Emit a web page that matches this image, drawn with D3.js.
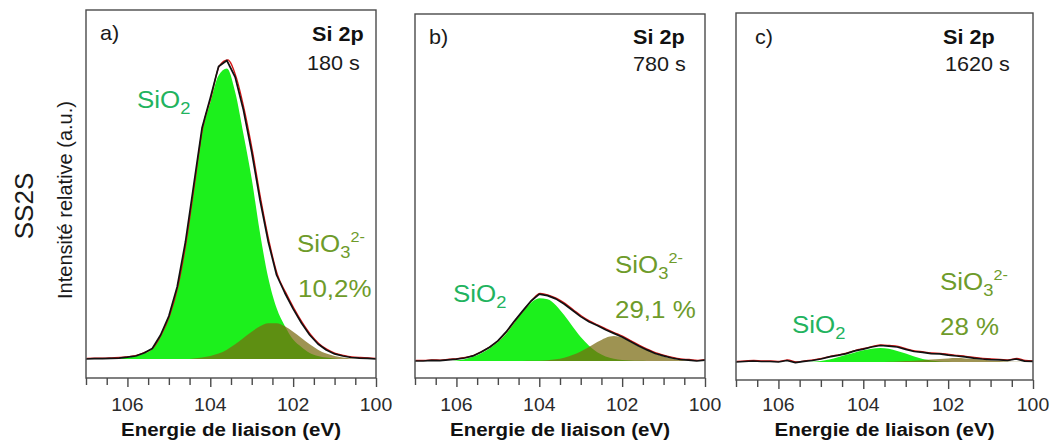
<!DOCTYPE html>
<html>
<head>
<meta charset="utf-8">
<script src="https://cdn.jsdelivr.net/npm/d3@7"></script>
<style>
  html, body { margin: 0; padding: 0; background: #fff; }
  svg { display: block; font-family: "Liberation Sans", Arial, sans-serif; }
</style>
</head>
<body>
<script>
// ---------------- DATA ----------------
const energy = [107.0,106.8,106.6,106.4,106.2,106.0,105.8,105.6,105.4,105.2,105.0,104.8,104.6,104.4,104.2,104.0,103.8,103.6,103.4,103.2,103.0,102.8,102.6,102.4,102.2,102.0,101.8,101.6,101.4,101.2,101.0,100.8,100.6,100.4,100.2,100.0];

// Panel a) 180 s
const envA  = [0,0.1,0.1,0.2,0.3,0.6,1.0,2.0,3.5,8.0,14.3,24,39,58,77,87,97.5,99.5,94,83,69,53,39,28,22,16.7,12,8,5,3,1.7,1.0,0.5,0.3,0.2,0];
const sio2A = [0,0,0,0.1,0.2,0.5,0.9,1.8,3.3,7.6,13.8,23.3,38,56.8,75.5,85.5,94.5,96.8,89,75,60,42,27,17,11,6.5,4,2,1,0.5,0.2,0,0,0,0,0];
const sio3A = [0,0,0,0,0,0,0,0,0,0,0,0,0,0.2,0.5,1.0,1.8,3.1,4.9,7.0,9.1,10.9,11.9,11.9,10.9,9.1,7.0,4.9,3.1,1.8,1.0,0.5,0.2,0.1,0,0];

// Panel b) 780 s
const envB  = [0,0,0.2,0.1,0.4,0.6,1.0,1.7,3.0,4.6,6.7,9.7,13.3,16.7,20,22.3,21.8,20.7,19.0,16.9,14.8,13.1,11.8,10.4,9.2,8.0,6.5,5.0,3.7,2.5,1.7,1.0,0.5,0.3,0,0.3];
const sio2B = [0,0,0,0,0,0.2,0.6,1.4,2.6,4.2,6.3,9.1,12.8,16.4,19.4,20.9,20.6,18.6,15.3,11.6,8.0,5.1,2.9,1.5,0.75,0.33,0.13,0.05,0,0,0,0,0,0,0,0];
const sio3B = [0,0,0,0,0,0,0,0,0,0,0,0,0,0,0.05,0.1,0.25,0.55,1.1,2.0,3.2,4.7,6.3,7.7,8.3,7.8,6.3,4.8,3.6,2.4,1.5,0.8,0.4,0.15,0.05,0];

// Panel c) 1620 s
const envC  = [0,0.17,0.33,0.17,0.17,0,0.5,-0.2,0.2,0.5,1.0,1.7,2.2,2.8,3.7,4.3,5.0,5.5,5.3,5.0,4.2,3.5,3.2,2.8,2.7,2.3,2.0,1.7,1.3,1.0,0.8,0.7,0.5,1.0,0.3,0.2];
const sio2C = [0,0,0,0,0,0,0,0,0,0.1,0.3,0.8,1.6,2.4,3.2,3.9,4.4,4.7,4.4,3.7,2.8,1.8,1.0,0.5,0.2,0.1,0,0,0,0,0,0,0,0,0,0];
const sio3C = [0,0,0,0,0,0,0,0,0,0,0,0,0,0,0,0,0,0,0.1,0.2,0.3,0.45,0.6,0.8,1.0,1.2,1.3,1.2,1.0,0.8,0.5,0.3,0.15,0.05,0,0];

const panelLetters = ["a)", "b)", "c)"];
const panelTimes   = ["180 s", "780 s", "1620 s"];
const sio3Percent  = ["10,2%", "29,1 %", "28 %"];
const xDomain      = [107, 100];
const xTicks       = [107,106.5,106,105.5,105,104.5,104,103.5,103,102.5,102,101.5,101,100.5,100];
const xTickLabels  = [106, 104, 102, 100];
const xTitle       = "Energie de liaison (eV)";
const yTitle       = "Intensité relative (a.u.)";
const sampleName   = "SS2S";
const coreLevel    = "Si 2p";

// ---------------- LAYOUT ----------------
const W = 1051, H = 448;
const layout = [
  {left: 86,  right: 376,  top: 10, bottom: 378, base: 359,
   letter:[100,40], core:[312,41], time:[307,70], sio2:[137,108], sio3:[297,252], pct:[298,297]},
  {left: 415, right: 705,  top: 14, bottom: 378, base: 361,
   letter:[429,44], core:[633,44], time:[633,71], sio2:[453,302], sio3:[615,273], pct:[615,318]},
  {left: 736, right: 1033, top: 13, bottom: 380, base: 362,
   letter:[755,44], core:[943,44], time:[945,71], sio2:[792,333], sio3:[940,290], pct:[940,335]}
];
const series = [
  {env: envA, sio2: sio2A, sio3: sio3A},
  {env: envB, sio2: sio2B, sio3: sio3B},
  {env: envC, sio2: sio2C, sio3: sio3C}
];

const SX = 1.08; // horizontal stretch of the reference text
const svg = d3.select("body").append("svg").attr("width", W).attr("height", H);

function htext(parent, x, y, str, size, opts = {}) {
  const t = parent.append("text")
    .attr("transform", `translate(${x},${y}) scale(${SX},1)`)
    .attr("font-size", size)
    .attr("fill", opts.fill || "#1a1a1a")
    .attr("font-weight", opts.bold ? "bold" : "normal")
    .attr("text-anchor", opts.anchor || "start");
  if (str !== null) t.text(str);
  return t;
}

layout.forEach((L, i) => {
  const S = series[i];
  const g = svg.append("g");
  const x = d3.scaleLinear().domain(xDomain).range([L.left, L.right]);
  const y = d3.scaleLinear().domain([0, 100]).range([L.base, L.base - 300]);

  const pts = k => energy.map((e, j) => ({e, v: S[k][j]}));

  const clipId = "clip" + i;
  svg.append("clipPath").attr("id", clipId).append("rect")
    .attr("x", L.left).attr("y", L.top).attr("width", L.right - L.left).attr("height", L.bottom - L.top);
  const dg = g.append("g").attr("clip-path", `url(#${clipId})`);

  const area = d3.area().x(d => x(d.e)).y0(y(0)).y1(d => y(d.v)).curve(d3.curveMonotoneX);
  const lineSmooth = d3.line().x(d => x(d.e)).y(d => y(d.v)).curve(d3.curveMonotoneX);
  const lineRaw = d3.line().x(d => x(d.e)).y(d => y(d.v));

  dg.append("path").attr("d", area(pts("sio2"))).attr("fill", "#1cf01c");
  dg.append("path").attr("d", area(pts("sio3"))).attr("fill", "rgb(120,105,15)").attr("fill-opacity", 0.72);
  dg.append("path").attr("d", lineSmooth(pts("env"))).attr("fill", "none")
    .attr("stroke", "#d41515").attr("stroke-width", 1.3).attr("transform", "translate(0.8,-0.6)");
  dg.append("path").attr("d", lineRaw(pts("env"))).attr("fill", "none")
    .attr("stroke", "#111").attr("stroke-width", 1.7).attr("stroke-linejoin", "round");

  // frame
  g.append("rect").attr("x", L.left).attr("y", L.top)
    .attr("width", L.right - L.left).attr("height", L.bottom - L.top)
    .attr("fill", "none").attr("stroke", "#4a4a4a").attr("stroke-width", 1.4);

  // x axis ticks
  const ax = g.append("g").attr("transform", `translate(0,${L.bottom})`)
    .call(d3.axisBottom(x).tickValues(xTicks).tickFormat("").tickSizeOuter(0));
  ax.select(".domain").remove();
  ax.selectAll(".tick line")
    .attr("stroke", "#4a4a4a").attr("stroke-width", 1.4)
    .attr("y2", d => xTickLabels.includes(d) ? 9 : 7);

  xTickLabels.forEach(v => {
    htext(g, x(v), 411, String(v), 18, {anchor: "middle", fill: "#2a2a2a"});
  });
  htext(g, (L.left + L.right) / 2, 436, xTitle, 19, {anchor: "middle", bold: true, fill: "#111"});

  // annotations
  htext(g, L.letter[0], L.letter[1], panelLetters[i], 20);
  htext(g, L.core[0], L.core[1], coreLevel, 20, {bold: true, fill: "#111"});
  htext(g, L.time[0], L.time[1], panelTimes[i], 20);

  const t2 = htext(g, L.sio2[0], L.sio2[1], null, 24, {fill: "#22b35e"});
  t2.append("tspan").text("SiO");
  t2.append("tspan").attr("font-size", 17).attr("dy", 6).text("2");

  const t3 = htext(g, L.sio3[0], L.sio3[1], null, 24, {fill: "#6e9b2a"});
  t3.append("tspan").text("SiO");
  t3.append("tspan").attr("font-size", 17).attr("dy", 6).text("3");
  t3.append("tspan").attr("font-size", 15).attr("dy", -16).text("2-");

  htext(g, L.pct[0], L.pct[1], sio3Percent[i], 24, {fill: "#6e9b2a"});
});

// y titles
svg.append("text").attr("transform", "translate(72,200) rotate(-90)")
  .attr("text-anchor", "middle").attr("font-size", 20).attr("fill", "#1a1a1a").text(yTitle);
svg.append("text").attr("transform", "translate(33,206) rotate(-90)")
  .attr("text-anchor", "middle").attr("font-size", 26).attr("fill", "#1a1a1a").text(sampleName);
</script>
</body>
</html>
